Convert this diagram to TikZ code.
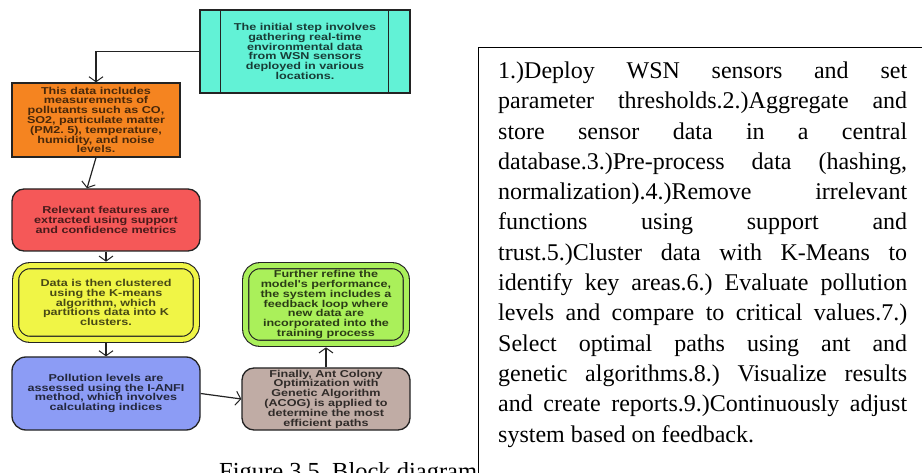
\documentclass[tikz,border=0pt]{standalone}
\usepackage{fontspec}
\setmainfont{Liberation Serif}
\newfontfamily\flowfont[FakeStretch=1.26]{Liberation Sans}
\usetikzlibrary{arrows.meta}
\frenchspacing

\definecolor{cyanf}{RGB}{98,242,214}
\definecolor{orangef}{RGB}{245,132,32}
\definecolor{redf}{RGB}{245,88,88}
\definecolor{yellowf}{RGB}{240,245,70}
\definecolor{greenf}{RGB}{170,240,90}
\definecolor{bluef}{RGB}{140,156,245}
\definecolor{brownf}{RGB}{192,172,165}
\definecolor{edge}{RGB}{35,35,35}

\tikzset{
  blk/.style={draw=edge, line width=1.3pt, inner sep=0pt, align=center,
    font=\flowfont\bfseries\fontsize{10}{9.8}\selectfont},
  dbl/.style={double=#1, double distance=5pt, line width=1.1pt},
  conn/.style={draw=edge, line width=1.2pt,
    -{Straight Barb[length=5pt,width=14pt,line width=1pt]}},
  bodytext/.style={anchor=base west, inner sep=0pt, font=\fontsize{24}{26}\selectfont},
}

\begin{document}
\begin{tikzpicture}[x=1pt,y=-1pt]
\useasboundingbox (0,0) rectangle (922,473);
\clip (0,0) rectangle (922,473);
\fill[white] (0,0) rectangle (922,473);

% flow boxes
\node[blk, fill=cyanf, text=cyanf!25!black, minimum width=210pt, minimum height=83pt] (c) at (305,51.5)
  {The initial step involves\\gathering real-time\\environmental data\\from WSN sensors\\deployed in various\\locations.};
\draw[edge, line width=1.3pt] ([xshift=21pt]c.north west) -- ([xshift=21pt]c.south west);
\draw[edge, line width=1.3pt] ([xshift=-22pt]c.north east) -- ([xshift=-22pt]c.south east);

\node[blk, fill=orangef, text=orangef!30!black, minimum width=168pt, minimum height=74pt] (o) at (96,120)
  {This data includes\\measurements of\\pollutants such as CO,\\SO2, particulate matter\\(PM2. 5), temperature,\\humidity, and noise\\levels.};

\node[blk, fill=redf, text=redf!30!black, rounded corners=12pt, minimum width=188pt, minimum height=62pt] (r) at (106,220)
  {Relevant features are\\extracted using support\\and confidence metrics};

\node[blk, dbl=yellowf, fill=yellowf, text=yellowf!30!black, rounded corners=14pt, minimum width=180.6pt, minimum height=73.6pt] (y) at (106,302.5)
  {Data is then clustered\\using the K-means\\algorithm, which\\partitions data into K\\clusters.};

\node[blk, fill=bluef, text=bluef!25!black, rounded corners=14pt, minimum width=188pt, minimum height=73pt] (b) at (106,393.5)
  {Pollution levels are\\assessed using the I-ANFI\\method, which involves\\calculating indices};

\node[blk, fill=brownf, text=brownf!25!black, rounded corners=12pt, minimum width=168pt, minimum height=62pt] (w) at (326,399)
  {Finally, Ant Colony\\Optimization with\\Genetic Algorithm\\(ACOG) is applied to\\determine the most\\efficient paths};

\node[blk, dbl=greenf, fill=greenf, text=greenf!25!black, rounded corners=14pt, minimum width=160.6pt, minimum height=77.6pt] (g) at (326,304.5)
  {Further refine the\\model's performance,\\the system includes a\\feedback loop where\\new data are\\incorporated into the\\training process};

% connectors
\draw[conn] (c.west) -| (o.north);
\draw[conn] (o.south) -- ([xshift=-19pt]r.north);
\draw[conn, shorten >=3.5pt] (r.south) -- (y.north);
\draw[conn, shorten <=3.5pt] (y.south) -- (b.north);
\draw[conn] (b.east) -- (w.west);
\draw[conn, shorten >=3.5pt] (w.north) -- (g.south);

% caption (partly hidden by the text box)
\node[anchor=base west, inner sep=0pt, font=\fontsize{24.5}{26}\selectfont] (cap) at (219,479) {Figure 3.5. Block diagram};

% text box
\node[draw=black, line width=1pt, fill=white, anchor=north west, minimum width=460pt, minimum height=440pt, inner sep=0pt] (tb) at (478,47) {};

\foreach \t [count=\i] in {
  {1.)Deploy WSN sensors and set},
  {parameter thresholds.2.)Aggregate and},
  {store sensor data in a central},
  {database.3.)Pre-process data (hashing,},
  {normalization).4.)Remove irrelevant},
  {functions using support and},
  {trust.5.)Cluster data with K-Means to},
  {identify key areas.6.) Evaluate pollution},
  {levels and compare to critical values.7.)},
  {Select optimal paths using ant and},
  {genetic algorithms.8.) Visualize results},
  {and create reports.9.)Continuously adjust}}
  \node[bodytext] (line\i) at (498,{78.5+30.3*(\i-1)}) {\makebox[409pt][s]{\t}};
\node[bodytext] (line13) at (498,{78.5+30.3*12}) {system based on feedback.};
\end{tikzpicture}
\end{document}
